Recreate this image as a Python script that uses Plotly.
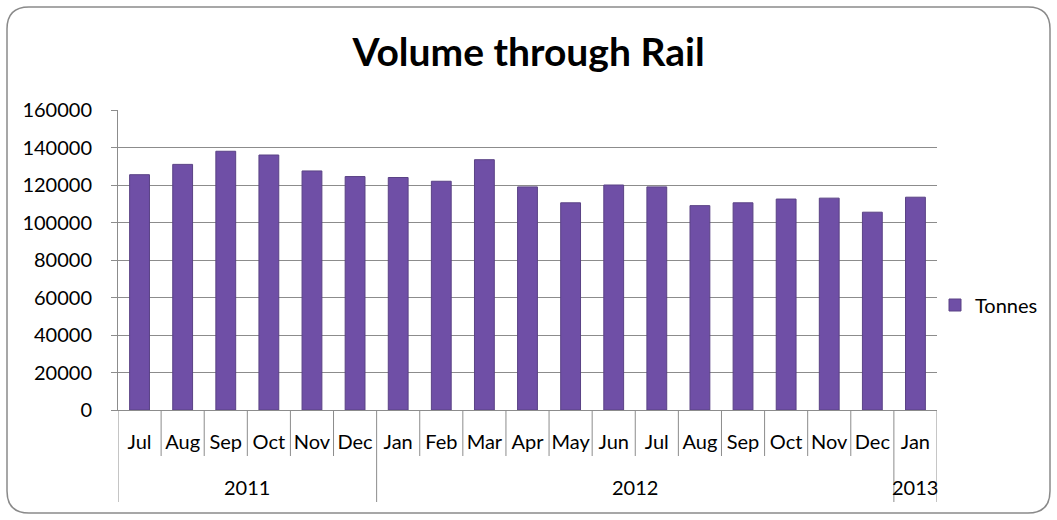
import plotly.graph_objects as go

years = ["2011", "2012", "2013"]
year_counts = [6, 12, 1]
months = ["Jul", "Aug", "Sep", "Oct", "Nov", "Dec",
          "Jan", "Feb", "Mar", "Apr", "May", "Jun", "Jul", "Aug", "Sep", "Oct", "Nov", "Dec",
          "Jan"]
tonnes = [125500, 131000, 138000, 136000, 127500, 124500,
          124000, 122000, 133500, 119000, 110500, 120000, 119000, 109000, 110500, 112500, 113000, 105500,
          113500]
y_ticks = [0, 20000, 40000, 60000, 80000, 100000, 120000, 140000, 160000]

FONT = "Lato"
GRID = "#8c8c8c"

idx = list(range(len(months)))

fig = go.Figure()
fig.add_trace(go.Bar(
    x=idx, y=tonnes, name="Tonnes",
    marker=dict(color="#6f4fa6", line=dict(color="#5a4285", width=1)),
    showlegend=True,
))

# plot-area pixel geometry
L, R, T, B = 118, 937, 110, 410
W, H = 1057, 520
def px(x):
    return (x - L) / (R - L)
def py(y):
    return (B - y) / (B - T)

# rounded chart border
x0, x1, y0, y1, r = 7, 1050, 7, 513, 22
path = (f"M {px(x0 + r)} {py(y0)} L {px(x1 - r)} {py(y0)} "
        f"Q {px(x1)} {py(y0)} {px(x1)} {py(y0 + r)} "
        f"L {px(x1)} {py(y1 - r)} Q {px(x1)} {py(y1)} {px(x1 - r)} {py(y1)} "
        f"L {px(x0 + r)} {py(y1)} Q {px(x0)} {py(y1)} {px(x0)} {py(y1 - r)} "
        f"L {px(x0)} {py(y0 + r)} Q {px(x0)} {py(y0)} {px(x0 + r)} {py(y0)} Z")
shapes = [dict(type="path", xref="paper", yref="paper", path=path,
               line=dict(color="#8a8a8a", width=1.5), layer="below")]

# category separators (month level short, year level long)
year_bounds = [-0.5]
for c in year_counts:
    year_bounds.append(year_bounds[-1] + c)
for i in range(len(months) + 1):
    xb = i - 0.5
    bottom = 502 if xb in year_bounds else 456
    shapes.append(dict(type="line", xref="x", yref="paper", x0=xb, x1=xb,
                       y0=0, y1=py(bottom), line=dict(color=GRID, width=1)))

annotations = []
for yname, lo, hi in zip(years, year_bounds[:-1], year_bounds[1:]):
    annotations.append(dict(x=(lo + hi) / 2, y=py(487), xref="x", yref="paper",
                            text=yname, showarrow=False, xanchor="center", yanchor="middle",
                            font=dict(size=20, family=FONT, color="black")))

fig.update_layout(
    width=W, height=H,
    margin=dict(l=L, r=W - R, t=T, b=H - B, autoexpand=False),
    paper_bgcolor="white", plot_bgcolor="white",
    font=dict(family=FONT, size=20, color="black"),
    title=dict(text="<b>Volume through Rail</b>", x=0.5, xanchor="center",
               y=1 - 52 / H, yanchor="middle", font=dict(size=39, family=FONT)),
    bargap=0.54,
    legend=dict(x=px(935), y=py(305), xanchor="left", yanchor="middle",
                font=dict(size=20, family=FONT), bgcolor="rgba(0,0,0,0)"),
    shapes=shapes,
    annotations=annotations,
)
fig.update_yaxes(range=[0, 160000], tickvals=y_ticks, ticktext=[str(v) for v in y_ticks],
                 showgrid=True, gridcolor=GRID, gridwidth=1,
                 showline=True, linecolor=GRID, linewidth=1,
                 ticks="outside", ticklen=6, tickcolor=GRID,
                 ticklabelstandoff=15, zeroline=False, automargin=False)
fig.update_xaxes(range=[-0.5, len(months) - 0.5], tickvals=idx, ticktext=months,
                 showline=True, linecolor=GRID, linewidth=1,
                 ticks="", ticklabelstandoff=14,
                 showgrid=False, zeroline=False, automargin=False)

fig.write_html("out.html", config={"displayModeBar": False},
               post_script="document.body.style.margin='0';document.body.style.padding='0';")
